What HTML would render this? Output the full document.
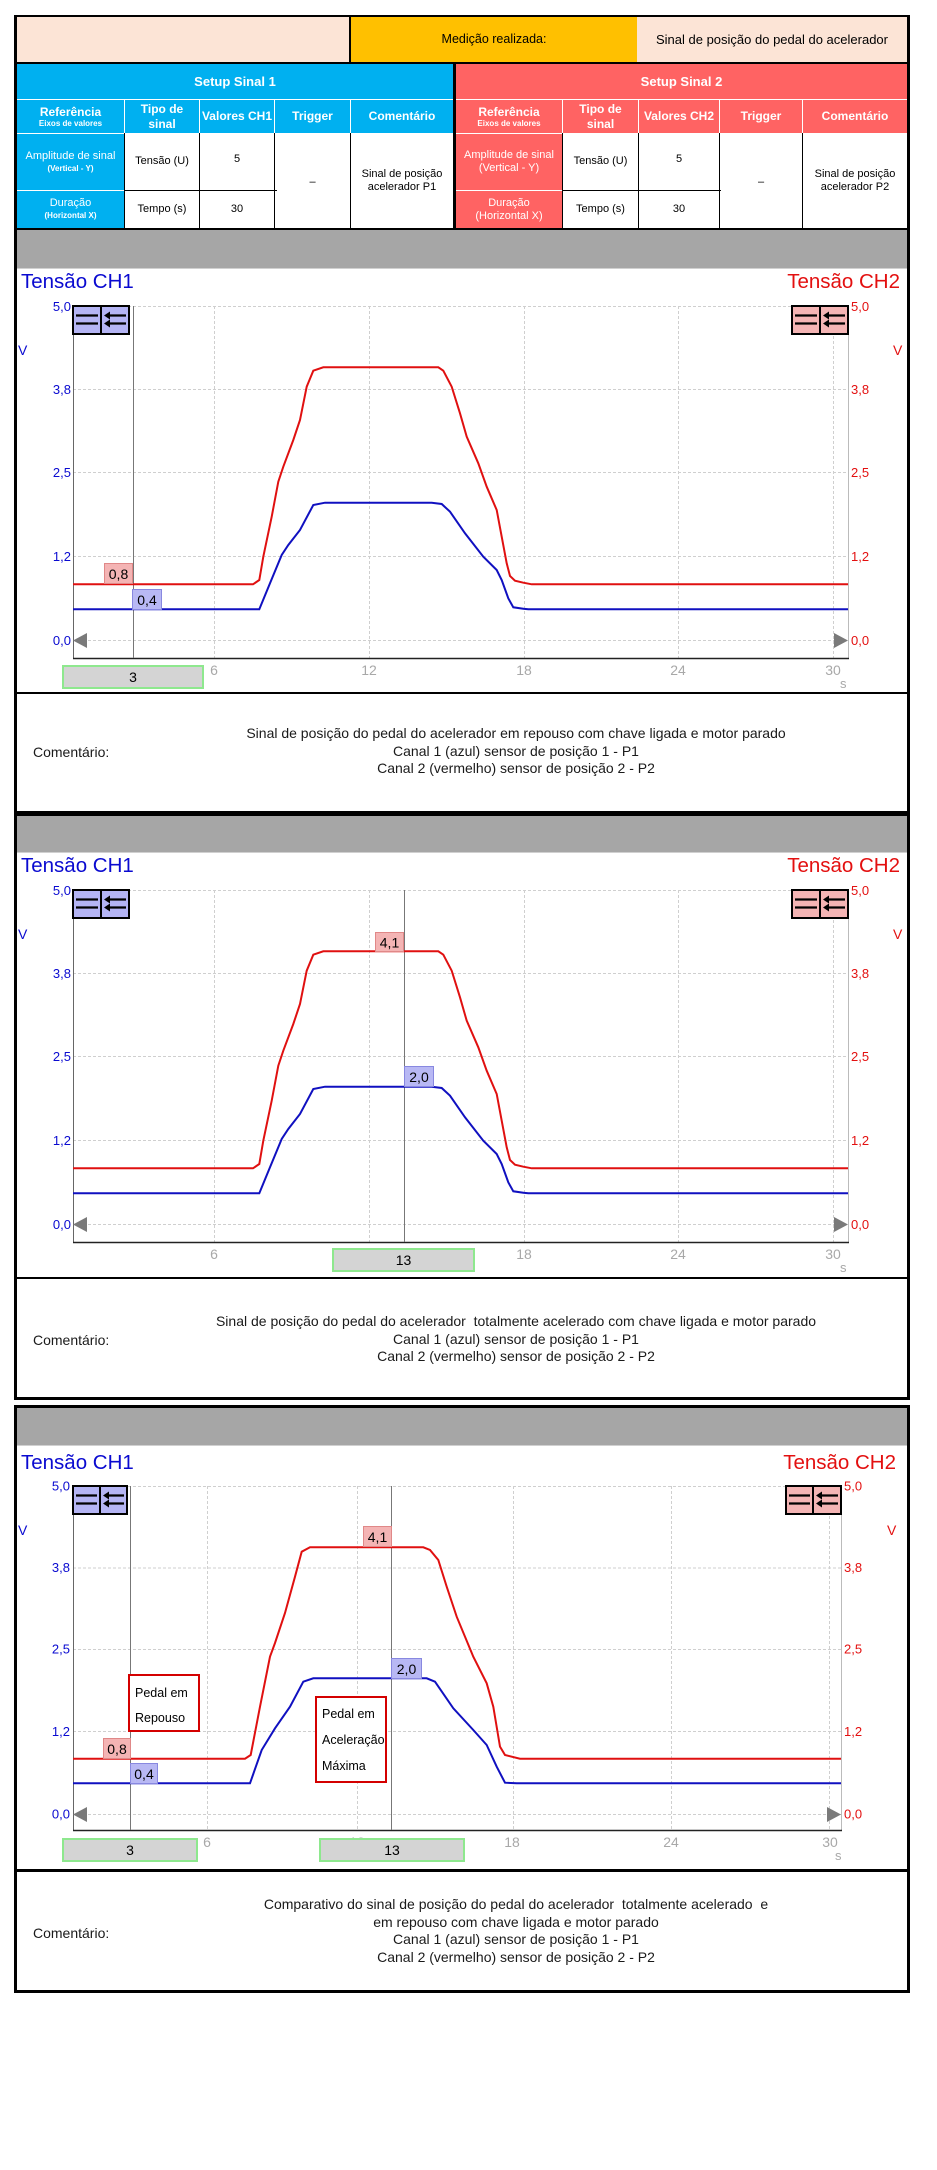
<!DOCTYPE html>
<html>
<head>
<meta charset="utf-8">
<style>
*{margin:0;padding:0;box-sizing:border-box}
html,body{width:937px;height:2170px;background:#fff;overflow:hidden}
body{position:relative;font-family:"Liberation Sans",Arial,sans-serif;color:#000}
.a{position:absolute}
.c{position:absolute;display:flex;flex-direction:column;align-items:center;justify-content:center;text-align:center;line-height:1.2}
.w{color:#fff}
.b{font-weight:bold}
.bl{background:#00b0f0}
.rd{background:#ff6363}
.k{position:absolute;background:#000}
.cm{position:absolute;font-size:14px;line-height:18px;color:#1a1a1a}
.ct{position:absolute;left:125px;width:782px;text-align:center;font-size:14px;line-height:17.5px;white-space:pre;color:#1a1a1a}
</style>
</head>
<body>

<!-- ===== SECTION 1 ===== -->
<div class="a" style="left:14px;top:15px;width:896px;height:799px;background:#000"></div>
<div class="c" style="left:17px;top:17px;width:332px;height:45px;background:#fce4d6"></div>
<div class="c" style="left:351px;top:17px;width:286px;height:45px;background:#ffc000;font-size:12.5px">Medição realizada:</div>
<div class="c" style="left:637px;top:17px;width:270px;height:45px;background:#fce4d6;font-size:13px">Sinal de posição do pedal do acelerador</div>

<div class="c w b bl" style="left:17px;top:64px;width:436px;height:35px;font-size:13px">Setup Sinal 1</div>
<div class="c w b rd" style="left:456px;top:64px;width:451px;height:35px;font-size:13px">Setup Sinal 2</div>

<div class="a" style="left:17px;top:99px;width:436px;height:129px;background:#fff"></div>
<div class="a" style="left:456px;top:99px;width:451px;height:129px;background:#fff"></div>

<!-- blue header row -->
<div class="c w b bl" style="left:17px;top:100px;width:107px;height:33px"><span style="font-size:12px;line-height:14px">Referência</span><span style="font-size:8px;line-height:10px">Eixos de valores</span></div>
<div class="c w b bl" style="left:125px;top:100px;width:74px;height:33px;font-size:12px;line-height:15px">Tipo de<br>sinal</div>
<div class="c w b bl" style="left:200px;top:100px;width:74px;height:33px;font-size:12px">Valores CH1</div>
<div class="c w b bl" style="left:275px;top:100px;width:75px;height:33px;font-size:12px">Trigger</div>
<div class="c w b bl" style="left:351px;top:100px;width:102px;height:33px;font-size:12px">Comentário</div>
<div class="c w bl" style="left:17px;top:134px;width:107px;height:56px"><span style="font-size:11px;line-height:13px">Amplitude de sinal</span><span class="b" style="font-size:8px;line-height:12px">(Vertical - Y)</span></div>
<div class="c w bl" style="left:17px;top:191px;width:107px;height:37px"><span style="font-size:11px;line-height:13px">Duração</span><span class="b" style="font-size:8px;line-height:12px">(Horizontal X)</span></div>
<div class="k" style="left:124px;top:133px;width:1px;height:95px"></div>
<div class="k" style="left:199px;top:133px;width:1px;height:95px"></div>
<div class="k" style="left:274px;top:133px;width:1px;height:95px"></div>
<div class="k" style="left:350px;top:133px;width:1px;height:95px"></div>
<div class="k" style="left:124px;top:190px;width:153px;height:1px"></div>
<div class="c" style="left:125px;top:134px;width:74px;height:56px;font-size:11px">Tensão (U)</div>
<div class="c" style="left:125px;top:191px;width:74px;height:37px;font-size:11px">Tempo (s)</div>
<div class="c" style="left:200px;top:134px;width:74px;height:52px;font-size:11px">5</div>
<div class="c" style="left:200px;top:191px;width:74px;height:37px;font-size:11px">30</div>
<div class="c" style="left:275px;top:138px;width:75px;height:90px;font-size:11px">–</div>
<div class="c" style="left:351px;top:134px;width:102px;height:94px;font-size:11px;line-height:13px">Sinal de posição<br>acelerador P1</div>

<!-- red header row -->
<div class="c w b rd" style="left:456px;top:100px;width:106px;height:33px"><span style="font-size:12px;line-height:14px">Referência</span><span style="font-size:8px;line-height:10px">Eixos de valores</span></div>
<div class="c w b rd" style="left:563px;top:100px;width:75px;height:33px;font-size:12px;line-height:15px">Tipo de<br>sinal</div>
<div class="c w b rd" style="left:639px;top:100px;width:80px;height:33px;font-size:12px">Valores CH2</div>
<div class="c w b rd" style="left:720px;top:100px;width:82px;height:33px;font-size:12px">Trigger</div>
<div class="c w b rd" style="left:803px;top:100px;width:104px;height:33px;font-size:12px">Comentário</div>
<div class="c w rd" style="left:456px;top:134px;width:106px;height:56px;font-size:11px;line-height:13px">Amplitude de sinal<br>(Vertical - Y)</div>
<div class="c w rd" style="left:456px;top:191px;width:106px;height:37px;font-size:11px;line-height:13px">Duração<br>(Horizontal X)</div>
<div class="k" style="left:562px;top:133px;width:1px;height:95px"></div>
<div class="k" style="left:638px;top:133px;width:1px;height:95px"></div>
<div class="k" style="left:719px;top:133px;width:1px;height:95px"></div>
<div class="k" style="left:802px;top:133px;width:1px;height:95px"></div>
<div class="k" style="left:562px;top:190px;width:159px;height:1px"></div>
<div class="c" style="left:563px;top:134px;width:75px;height:56px;font-size:11px">Tensão (U)</div>
<div class="c" style="left:563px;top:191px;width:75px;height:37px;font-size:11px">Tempo (s)</div>
<div class="c" style="left:639px;top:134px;width:80px;height:52px;font-size:11px">5</div>
<div class="c" style="left:639px;top:191px;width:80px;height:37px;font-size:11px">30</div>
<div class="c" style="left:720px;top:138px;width:82px;height:90px;font-size:11px">–</div>
<div class="c" style="left:803px;top:134px;width:104px;height:94px;font-size:11px;line-height:13px">Sinal de posição<br>acelerador P2</div>

<div class="a" style="left:17px;top:230px;width:890px;height:38px;background:#a6a6a6"></div>
<div class="a" style="left:17px;top:268px;width:890px;height:424px;background:#fff;border-top:1px solid #d0d0d0"></div>
<div class="a" style="left:17px;top:694px;width:890px;height:117px;background:#fff"></div>
<div class="cm" style="left:33px;top:743px">Comentário:</div>
<div class="ct" style="top:725px">Sinal de posição do pedal do acelerador em repouso com chave ligada e motor parado
Canal 1 (azul) sensor de posição 1 - P1
Canal 2 (vermelho) sensor de posição 2 - P2</div>

<!-- ===== SECTION 2 ===== -->
<div class="a" style="left:14px;top:813px;width:896px;height:587px;background:#000"></div>
<div class="a" style="left:17px;top:816px;width:890px;height:36px;background:#a6a6a6"></div>
<div class="a" style="left:17px;top:852px;width:890px;height:425px;background:#fff;border-top:1px solid #d0d0d0"></div>
<div class="a" style="left:17px;top:1279px;width:890px;height:118px;background:#fff"></div>
<div class="cm" style="left:33px;top:1331px">Comentário:</div>
<div class="ct" style="top:1313px">Sinal de posição do pedal do acelerador  totalmente acelerado com chave ligada e motor parado
Canal 1 (azul) sensor de posição 1 - P1
Canal 2 (vermelho) sensor de posição 2 - P2</div>

<!-- ===== SECTION 3 ===== -->
<div class="a" style="left:14px;top:1405px;width:896px;height:588px;background:#000"></div>
<div class="a" style="left:17px;top:1408px;width:890px;height:37px;background:#a6a6a6"></div>
<div class="a" style="left:17px;top:1445px;width:890px;height:424px;background:#fff;border-top:1px solid #d0d0d0"></div>
<div class="a" style="left:17px;top:1872px;width:890px;height:118px;background:#fff"></div>
<div class="cm" style="left:33px;top:1924px">Comentário:</div>
<div class="ct" style="top:1896px">Comparativo do sinal de posição do pedal do acelerador  totalmente acelerado  e
em repouso com chave ligada e motor parado
Canal 1 (azul) sensor de posição 1 - P1
Canal 2 (vermelho) sensor de posição 2 - P2</div>

<!-- ===== CHARTS ===== -->
<svg class="a" style="left:0;top:0" width="937" height="2170" viewBox="0 0 937 2170" font-family="Liberation Sans, Arial, sans-serif">

<!-- CHART 1 -->
<g>
<g stroke="#cfcfcf" stroke-width="1" stroke-dasharray="3 2">
<line x1="73" y1="306.5" x2="848" y2="306.5"/>
<line x1="73" y1="389.5" x2="848" y2="389.5"/>
<line x1="73" y1="472.5" x2="848" y2="472.5"/>
<line x1="73" y1="556.5" x2="848" y2="556.5"/>
<line x1="73" y1="640.5" x2="848" y2="640.5"/>
<line x1="214.5" y1="306" x2="214.5" y2="658"/>
<line x1="369.5" y1="306" x2="369.5" y2="658"/>
<line x1="524.5" y1="306" x2="524.5" y2="658"/>
<line x1="678.5" y1="306" x2="678.5" y2="658"/>
<line x1="833.5" y1="306" x2="833.5" y2="658"/>
</g>
<line x1="73.5" y1="306" x2="73.5" y2="658" stroke="#666"/>
<line x1="848.5" y1="306" x2="848.5" y2="658" stroke="#bbb"/>
<line x1="73" y1="658.5" x2="849" y2="658.5" stroke="#222" stroke-width="1.5"/>
<line x1="133.5" y1="306" x2="133.5" y2="658" stroke="#777"/>
<path d="M73,584.3 L253,584.3 L259.3,580 L263.3,556.7 L271.7,516.7 L278.3,481.7 L283.3,466.7 L293.3,440 L300,420 L306.7,386.7 L313.3,370.7 L323.3,367.3 L438.3,367.3 L443.3,370.7 L451.7,386.7 L460,413.3 L466.7,436.7 L478.3,463.3 L486.7,486.7 L496.7,510 L501.7,536.7 L506.7,563.3 L510,576 L515,580.7 L523.3,582.7 L531.7,584.3 L848,584.3" fill="none" stroke="#e01010" stroke-width="2"/>
<path d="M73,609.3 L259.3,609.3 L270,583.3 L281.7,555 L288.3,545 L300,530 L313.3,505 L325,502.7 L431.7,502.7 L441.7,504 L450,511.7 L465,533.3 L483.3,556.7 L496.7,570 L501.7,580 L508.3,598.3 L513.3,607.3 L523.3,608.7 L528.3,609.3 L848,609.3" fill="none" stroke="#1010c0" stroke-width="2"/>
<polygon points="87,633 73,640.5 87,648" fill="#7a7a7a"/>
<polygon points="834,633 848,640.5 834,648" fill="#7a7a7a"/>
<rect x="73" y="306" width="56" height="28" fill="#b4b4f4" stroke="#000" stroke-width="2"/>
<line x1="101" y1="306" x2="101" y2="334" stroke="#000" stroke-width="2"/>
<g stroke="#000" stroke-width="2.2">
<line x1="76" y1="315.5" x2="98" y2="315.5"/><line x1="76" y1="323.5" x2="98" y2="323.5"/>
<line x1="108" y1="315.5" x2="126" y2="315.5"/><line x1="108" y1="323.5" x2="126" y2="323.5"/>
</g>
<path d="M104,315.5 L110,311.5 L110,319.5 Z M104,323.5 L110,319.5 L110,327.5 Z" fill="#000"/>
<rect x="792" y="306" width="56" height="28" fill="#f4b4b4" stroke="#000" stroke-width="2"/>
<line x1="820" y1="306" x2="820" y2="334" stroke="#000" stroke-width="2"/>
<g stroke="#000" stroke-width="2.2">
<line x1="795" y1="315.5" x2="817" y2="315.5"/><line x1="795" y1="323.5" x2="817" y2="323.5"/>
<line x1="827" y1="315.5" x2="845" y2="315.5"/><line x1="827" y1="323.5" x2="845" y2="323.5"/>
</g>
<path d="M823,315.5 L829,311.5 L829,319.5 Z M823,323.5 L829,319.5 L829,327.5 Z" fill="#000"/>
<g font-size="13" fill="#0a0ad0" text-anchor="end">
<text x="71" y="311">5,0</text><text x="71" y="394">3,8</text><text x="71" y="477">2,5</text><text x="71" y="561">1,2</text><text x="71" y="645">0,0</text>
</g>
<g font-size="13" fill="#e31010">
<text x="851" y="311">5,0</text><text x="851" y="394">3,8</text><text x="851" y="477">2,5</text><text x="851" y="561">1,2</text><text x="851" y="645">0,0</text>
</g>
<text x="18" y="355" font-size="14" fill="#0a0ad0">V</text>
<text x="893" y="355" font-size="14" fill="#e31010">V</text>
<text x="21" y="288" font-size="20.5" fill="#0a0ad0">Tensão CH1</text>
<text x="900" y="288" font-size="20.5" fill="#e31010" text-anchor="end">Tensão CH2</text>
<g font-size="14" fill="#a8a8a8" text-anchor="middle">
<text x="214" y="675">6</text><text x="369" y="675">12</text><text x="524" y="675">18</text><text x="678" y="675">24</text><text x="833" y="675">30</text>
</g>
<text x="840" y="688" font-size="13" fill="#a8a8a8">s</text>
<rect x="63" y="666" width="140" height="22" fill="#d4d4d4" stroke="#8ee88e" stroke-width="2"/>
<text x="133" y="682" font-size="14" text-anchor="middle" fill="#000">3</text>
<rect x="104.5" y="563.5" width="28" height="20" fill="#f4b4b4" stroke="#e08888"/>
<text x="118.5" y="579" font-size="14" text-anchor="middle" fill="#000">0,8</text>
<rect x="132.5" y="589.5" width="29" height="20" fill="#b8b8f4" stroke="#8888e0"/>
<text x="147" y="605" font-size="14" text-anchor="middle" fill="#000">0,4</text>
</g>

<!-- CHART 2 -->
<g transform="translate(0,584)">
<g stroke="#cfcfcf" stroke-width="1" stroke-dasharray="3 2">
<line x1="73" y1="306.5" x2="848" y2="306.5"/>
<line x1="73" y1="389.5" x2="848" y2="389.5"/>
<line x1="73" y1="472.5" x2="848" y2="472.5"/>
<line x1="73" y1="556.5" x2="848" y2="556.5"/>
<line x1="73" y1="640.5" x2="848" y2="640.5"/>
<line x1="214.5" y1="306" x2="214.5" y2="658"/>
<line x1="369.5" y1="306" x2="369.5" y2="658"/>
<line x1="524.5" y1="306" x2="524.5" y2="658"/>
<line x1="678.5" y1="306" x2="678.5" y2="658"/>
<line x1="833.5" y1="306" x2="833.5" y2="658"/>
</g>
<line x1="73.5" y1="306" x2="73.5" y2="658" stroke="#666"/>
<line x1="848.5" y1="306" x2="848.5" y2="658" stroke="#bbb"/>
<line x1="73" y1="658.5" x2="849" y2="658.5" stroke="#222" stroke-width="1.5"/>
<line x1="404.5" y1="306" x2="404.5" y2="658" stroke="#777"/>
<path d="M73,584.3 L253,584.3 L259.3,580 L263.3,556.7 L271.7,516.7 L278.3,481.7 L283.3,466.7 L293.3,440 L300,420 L306.7,386.7 L313.3,370.7 L323.3,367.3 L438.3,367.3 L443.3,370.7 L451.7,386.7 L460,413.3 L466.7,436.7 L478.3,463.3 L486.7,486.7 L496.7,510 L501.7,536.7 L506.7,563.3 L510,576 L515,580.7 L523.3,582.7 L531.7,584.3 L848,584.3" fill="none" stroke="#e01010" stroke-width="2"/>
<path d="M73,609.3 L259.3,609.3 L270,583.3 L281.7,555 L288.3,545 L300,530 L313.3,505 L325,502.7 L431.7,502.7 L441.7,504 L450,511.7 L465,533.3 L483.3,556.7 L496.7,570 L501.7,580 L508.3,598.3 L513.3,607.3 L523.3,608.7 L528.3,609.3 L848,609.3" fill="none" stroke="#1010c0" stroke-width="2"/>
<polygon points="87,633 73,640.5 87,648" fill="#7a7a7a"/>
<polygon points="834,633 848,640.5 834,648" fill="#7a7a7a"/>
<rect x="73" y="306" width="56" height="28" fill="#b4b4f4" stroke="#000" stroke-width="2"/>
<line x1="101" y1="306" x2="101" y2="334" stroke="#000" stroke-width="2"/>
<g stroke="#000" stroke-width="2.2">
<line x1="76" y1="315.5" x2="98" y2="315.5"/><line x1="76" y1="323.5" x2="98" y2="323.5"/>
<line x1="108" y1="315.5" x2="126" y2="315.5"/><line x1="108" y1="323.5" x2="126" y2="323.5"/>
</g>
<path d="M104,315.5 L110,311.5 L110,319.5 Z M104,323.5 L110,319.5 L110,327.5 Z" fill="#000"/>
<rect x="792" y="306" width="56" height="28" fill="#f4b4b4" stroke="#000" stroke-width="2"/>
<line x1="820" y1="306" x2="820" y2="334" stroke="#000" stroke-width="2"/>
<g stroke="#000" stroke-width="2.2">
<line x1="795" y1="315.5" x2="817" y2="315.5"/><line x1="795" y1="323.5" x2="817" y2="323.5"/>
<line x1="827" y1="315.5" x2="845" y2="315.5"/><line x1="827" y1="323.5" x2="845" y2="323.5"/>
</g>
<path d="M823,315.5 L829,311.5 L829,319.5 Z M823,323.5 L829,319.5 L829,327.5 Z" fill="#000"/>
<g font-size="13" fill="#0a0ad0" text-anchor="end">
<text x="71" y="311">5,0</text><text x="71" y="394">3,8</text><text x="71" y="477">2,5</text><text x="71" y="561">1,2</text><text x="71" y="645">0,0</text>
</g>
<g font-size="13" fill="#e31010">
<text x="851" y="311">5,0</text><text x="851" y="394">3,8</text><text x="851" y="477">2,5</text><text x="851" y="561">1,2</text><text x="851" y="645">0,0</text>
</g>
<text x="18" y="355" font-size="14" fill="#0a0ad0">V</text>
<text x="893" y="355" font-size="14" fill="#e31010">V</text>
<text x="21" y="288" font-size="20.5" fill="#0a0ad0">Tensão CH1</text>
<text x="900" y="288" font-size="20.5" fill="#e31010" text-anchor="end">Tensão CH2</text>
<g font-size="14" fill="#a8a8a8" text-anchor="middle">
<text x="214" y="675">6</text><text x="369" y="675">12</text><text x="524" y="675">18</text><text x="678" y="675">24</text><text x="833" y="675">30</text>
</g>
<text x="840" y="688" font-size="13" fill="#a8a8a8">s</text>
<rect x="333" y="665" width="141" height="22" fill="#d4d4d4" stroke="#8ee88e" stroke-width="2"/>
<text x="403.5" y="681" font-size="14" text-anchor="middle" fill="#000">13</text>
<rect x="375.5" y="348.5" width="28" height="19" fill="#f4b4b4" stroke="#e08888"/>
<text x="389.5" y="363.5" font-size="14" text-anchor="middle" fill="#000">4,1</text>
<rect x="404.5" y="482.5" width="29" height="20" fill="#b8b8f4" stroke="#8888e0"/>
<text x="419" y="498" font-size="14" text-anchor="middle" fill="#000">2,0</text>
</g>

<!-- CHART 3 -->
<g>
<g stroke="#cfcfcf" stroke-width="1" stroke-dasharray="3 2">
<line x1="73" y1="1486.5" x2="841" y2="1486.5"/>
<line x1="73" y1="1568" x2="841" y2="1568"/>
<line x1="73" y1="1649.5" x2="841" y2="1649.5"/>
<line x1="73" y1="1731.5" x2="841" y2="1731.5"/>
<line x1="73" y1="1814.5" x2="841" y2="1814.5"/>
<line x1="207.5" y1="1486" x2="207.5" y2="1830"/>
<line x1="357.5" y1="1486" x2="357.5" y2="1830"/>
<line x1="513.5" y1="1486" x2="513.5" y2="1830"/>
<line x1="671.5" y1="1486" x2="671.5" y2="1830"/>
<line x1="829.5" y1="1486" x2="829.5" y2="1830"/>
</g>
<line x1="73.5" y1="1486" x2="73.5" y2="1830" stroke="#666"/>
<line x1="841.5" y1="1486" x2="841.5" y2="1830" stroke="#bbb"/>
<line x1="73" y1="1830.5" x2="842" y2="1830.5" stroke="#222" stroke-width="1.5"/>
<line x1="130.5" y1="1486" x2="130.5" y2="1830" stroke="#777"/>
<line x1="391.5" y1="1486" x2="391.5" y2="1830" stroke="#777"/>
<path d="M73,1758.7 L245,1758.7 L250.7,1755 L260,1706.7 L270,1656.7 L275,1643 L285,1613 L295,1576.7 L301.7,1551.7 L310,1547.3 L423.3,1547.3 L430,1550 L438.3,1560 L446.7,1586.7 L456.7,1616.7 L473.3,1656.7 L486.7,1683.3 L493.3,1706.7 L500,1746.7 L505,1755 L520,1758.7 L841,1758.7" fill="none" stroke="#e01010" stroke-width="2"/>
<path d="M73,1783.3 L250,1783.3 L261.7,1750 L275,1728.3 L290,1706.7 L303.3,1681.7 L313.3,1678.3 L426.7,1678.3 L435,1681.7 L453.3,1708.3 L473.3,1730 L486.7,1745 L496.7,1766.7 L505,1782.7 L516.7,1783.3 L841,1783.3" fill="none" stroke="#1010c0" stroke-width="2"/>
<polygon points="87,1807 73,1814.5 87,1822" fill="#7a7a7a"/>
<polygon points="827,1807 841,1814.5 827,1822" fill="#7a7a7a"/>
<rect x="73" y="1486" width="54" height="28" fill="#b4b4f4" stroke="#000" stroke-width="2"/>
<line x1="100" y1="1486" x2="100" y2="1514" stroke="#000" stroke-width="2"/>
<g stroke="#000" stroke-width="2.2">
<line x1="76" y1="1495.5" x2="97" y2="1495.5"/><line x1="76" y1="1503.5" x2="97" y2="1503.5"/>
<line x1="107" y1="1495.5" x2="124" y2="1495.5"/><line x1="107" y1="1503.5" x2="124" y2="1503.5"/>
</g>
<path d="M103,1495.5 L109,1491.5 L109,1499.5 Z M103,1503.5 L109,1499.5 L109,1507.5 Z" fill="#000"/>
<rect x="786" y="1486" width="55" height="28" fill="#f4b4b4" stroke="#000" stroke-width="2"/>
<line x1="813" y1="1486" x2="813" y2="1514" stroke="#000" stroke-width="2"/>
<g stroke="#000" stroke-width="2.2">
<line x1="789" y1="1495.5" x2="810" y2="1495.5"/><line x1="789" y1="1503.5" x2="810" y2="1503.5"/>
<line x1="820" y1="1495.5" x2="838" y2="1495.5"/><line x1="820" y1="1503.5" x2="838" y2="1503.5"/>
</g>
<path d="M816,1495.5 L822,1491.5 L822,1499.5 Z M816,1503.5 L822,1499.5 L822,1507.5 Z" fill="#000"/>
<g font-size="13" fill="#0a0ad0" text-anchor="end">
<text x="70" y="1490.5">5,0</text><text x="70" y="1572">3,8</text><text x="70" y="1653.5">2,5</text><text x="70" y="1736">1,2</text><text x="70" y="1818.5">0,0</text>
</g>
<g font-size="13" fill="#e31010">
<text x="844" y="1490.5">5,0</text><text x="844" y="1572">3,8</text><text x="844" y="1653.5">2,5</text><text x="844" y="1736">1,2</text><text x="844" y="1818.5">0,0</text>
</g>
<text x="18" y="1535" font-size="14" fill="#0a0ad0">V</text>
<text x="887" y="1535" font-size="14" fill="#e31010">V</text>
<text x="21" y="1469" font-size="20.5" fill="#0a0ad0">Tensão CH1</text>
<text x="896" y="1469" font-size="20.5" fill="#e31010" text-anchor="end">Tensão CH2</text>
<g font-size="14" fill="#a8a8a8" text-anchor="middle">
<text x="207" y="1847">6</text><text x="357" y="1847">12</text><text x="512" y="1847">18</text><text x="671" y="1847">24</text><text x="830" y="1847">30</text>
</g>
<text x="835" y="1860" font-size="13" fill="#a8a8a8">s</text>
<rect x="63" y="1839" width="134" height="22" fill="#d4d4d4" stroke="#8ee88e" stroke-width="2"/>
<text x="130" y="1855" font-size="14" text-anchor="middle" fill="#000">3</text>
<rect x="320" y="1839" width="144" height="22" fill="#d4d4d4" stroke="#8ee88e" stroke-width="2"/>
<text x="392" y="1855" font-size="14" text-anchor="middle" fill="#000">13</text>
<rect x="363.5" y="1526.5" width="28" height="20" fill="#f4b4b4" stroke="#e08888"/>
<text x="377.5" y="1542" font-size="14" text-anchor="middle" fill="#000">4,1</text>
<rect x="391.5" y="1658.5" width="30" height="20" fill="#b8b8f4" stroke="#8888e0"/>
<text x="406.5" y="1674" font-size="14" text-anchor="middle" fill="#000">2,0</text>
<rect x="103.5" y="1738.5" width="27" height="20" fill="#f4b4b4" stroke="#e08888"/>
<text x="117" y="1754" font-size="14" text-anchor="middle" fill="#000">0,8</text>
<rect x="130.5" y="1763.5" width="27" height="20" fill="#b8b8f4" stroke="#8888e0"/>
<text x="144" y="1779" font-size="14" text-anchor="middle" fill="#000">0,4</text>
<rect x="129" y="1675" width="70" height="56" fill="#fff" stroke="#d40000" stroke-width="2"/>
<text x="135" y="1697" font-size="12.5" fill="#000">Pedal em</text>
<text x="135" y="1722" font-size="12.5" fill="#000">Repouso</text>
<rect x="316" y="1697" width="70" height="85" fill="#fff" stroke="#d40000" stroke-width="2"/>
<text x="322" y="1718" font-size="12.5" fill="#000">Pedal em</text>
<text x="322" y="1744" font-size="12.5" fill="#000">Aceleração</text>
<text x="322" y="1770" font-size="12.5" fill="#000">Máxima</text>
</g>
</svg>
</body>
</html>
